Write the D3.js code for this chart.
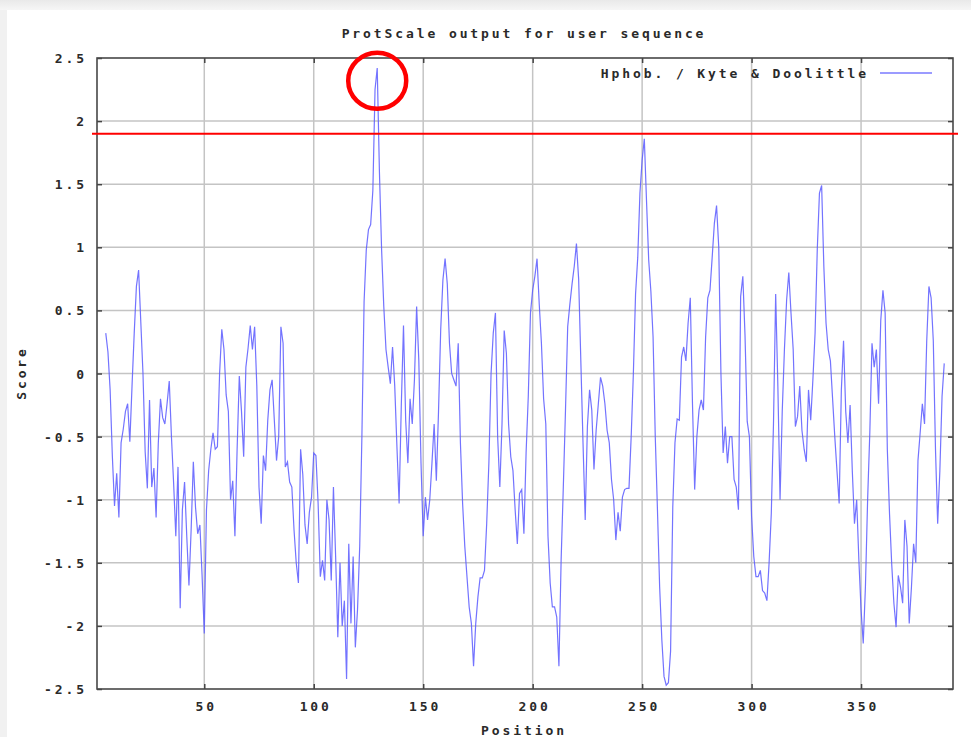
<!DOCTYPE html>
<html>
<head>
<meta charset="utf-8">
<script src="https://cdn.jsdelivr.net/npm/d3@7/dist/d3.min.js"></script>
<style>
  html, body { margin: 0; padding: 0; background: #ffffff; }
  svg { display: block; }
  text { font-family: "DejaVu Sans Mono", "Liberation Mono", monospace; fill: #2a2a2a; }
</style>
</head>
<body>
<svg id="chart" width="971" height="737"></svg>
<script>
// ---------- data ----------
const title = "ProtScale output for user sequence";
const seriesName = "Hphob. / Kyte & Doolittle";
const xLabel = "Position";
const yLabel = "Score";
const firstPosition = 5;
const scores = [
  0.32, 0.17, -0.13, -0.65, -1.05, -0.79, -1.14, -0.55, -0.44, -0.3,   // 5-14
  -0.24, -0.54, -0.1, 0.32, 0.69, 0.82, 0.41, 0.0, -0.62, -0.91,       // 15-24
  -0.21, -0.9, -0.75, -1.14, -0.55, -0.2, -0.35, -0.4, -0.24, -0.06,   // 25-34
  -0.5, -0.87, -1.29, -0.74, -1.86, -1.08, -0.86, -1.29, -1.68, -1.24, // 35-44
  -0.7, -1.06, -1.27, -1.2, -1.6, -2.06, -1.08, -0.77, -0.6, -0.47,    // 45-54
  -0.6, -0.58, 0.0, 0.35, 0.19, -0.17, -0.3, -1.0, -0.85, -1.29,       // 55-64
  -0.6, -0.02, -0.3, -0.66, 0.05, 0.2, 0.38, 0.19, 0.37, -0.1,         // 65-74
  -0.9, -1.19, -0.65, -0.77, -0.37, -0.13, -0.05, -0.37, -0.69, -0.5,  // 75-84
  0.37, 0.24, -0.74, -0.7, -0.86, -0.9, -1.24, -1.5, -1.66, -0.6,      // 85-94
  -0.8, -1.2, -1.35, -1.1, -0.98, -0.63, -0.65, -1.03, -1.61, -1.48,   // 95-104
  -1.64, -1.0, -1.16, -1.64, -0.9, -1.45, -2.09, -1.5, -2.0, -1.8,     // 105-114
  -2.42, -1.35, -1.98, -1.45, -2.17, -1.87, -1.37, -0.5, 0.57, 0.98,   // 115-124
  1.14, 1.18, 1.45, 2.25, 2.42, 1.6, 0.98, 0.53, 0.19, 0.05,           // 125-134
  -0.08, 0.21, -0.1, -0.58, -1.03, -0.25, 0.38, -0.37, -0.71, -0.2,    // 135-144
  -0.4, -0.05, 0.53, 0.1, -0.71, -1.29, -0.98, -1.16, -1.0, -0.71,     // 145-154
  -0.4, -0.85, -0.3, 0.35, 0.74, 0.91, 0.71, 0.24, 0.0, -0.05,         // 155-164
  -0.1, 0.24, -0.55, -1.03, -1.37, -1.61, -1.85, -1.98, -2.32, -1.98,  // 165-174
  -1.77, -1.62, -1.62, -1.56, -1.19, -0.71, 0.0, 0.32, 0.48, -0.5,     // 175-184
  -0.9, -0.4, 0.34, 0.16, -0.4, -0.66, -0.77, -1.08, -1.35, -0.95,     // 185-194
  -0.92, -1.27, -0.63, -0.18, 0.48, 0.66, 0.77, 0.91, 0.55, 0.24,      // 195-204
  -0.2, -0.4, -1.29, -1.66, -1.85, -1.85, -1.93, -2.32, -1.48, -0.9,   // 205-214
  -0.29, 0.37, 0.55, 0.71, 0.85, 1.03, 0.75, 0.1, -0.55, -1.16,        // 215-224
  -0.42, -0.13, -0.29, -0.76, -0.45, -0.24, -0.03, -0.1, -0.24, -0.45, // 225-234
  -0.55, -0.84, -1.0, -1.32, -1.1, -1.25, -0.98, -0.92, -0.91, -0.91,  // 235-244
  -0.5, 0.0, 0.63, 0.92, 1.43, 1.69, 1.86, 1.37, 0.9, 0.65,            // 245-254
  0.29, -0.5, -1.08, -1.69, -2.11, -2.4, -2.47, -2.45, -2.2, -1.06,    // 255-264
  -0.55, -0.36, -0.37, 0.13, 0.21, 0.1, 0.4, 0.6, -0.24, -0.92,        // 265-274
  -0.5, -0.29, -0.21, -0.29, 0.29, 0.6, 0.66, 0.92, 1.19, 1.33,        // 275-284
  1.0, 0.0, -0.63, -0.42, -0.71, -0.5, -0.5, -0.84, -0.9, -1.08,       // 285-294
  0.61, 0.77, 0.3, -0.38, -0.5, -1.13, -1.45, -1.61, -1.61, -1.56,     // 295-304
  -1.72, -1.74, -1.8, -1.5, -1.11, -0.4, 0.63, -0.1, -1.0, -0.3,       // 305-314
  0.19, 0.58, 0.8, 0.48, 0.19, -0.42, -0.34, -0.1, -0.45, -0.6,        // 315-324
  -0.7, -0.13, -0.37, -0.05, 0.32, 0.98, 1.43, 1.49, 0.85, 0.4,        // 325-334
  0.19, 0.1, -0.2, -0.5, -0.77, -1.03, -0.13, 0.26, -0.3, -0.55,       // 335-344
  -0.25, -0.77, -1.19, -1.0, -1.48, -1.87, -2.14, -1.69, -1.0, -0.47,  // 345-354
  0.24, 0.05, 0.19, -0.24, 0.42, 0.66, 0.48, -0.6, -1.11, -1.51,       // 355-364
  -1.82, -2.01, -1.6, -1.69, -1.82, -1.16, -1.37, -1.98, -1.7, -1.35,  // 365-374
  -1.5, -0.69, -0.47, -0.24, -0.4, 0.26, 0.69, 0.6, 0.26, -0.6,        // 375-384
  -1.19, -0.77, -0.18, 0.08                                             // 385-388
];
const xDomain = [1, 392];
const yDomain = [-2.5, 2.5];
const xTicks = [50, 100, 150, 200, 250, 300, 350];
const yTicks = [-2.5, -2, -1.5, -1, -0.5, 0, 0.5, 1, 1.5, 2, 2.5];
const yTickLabels = ["-2.5", "-2", "-1.5", "-1", "-0.5", "0", "0.5", "1", "1.5", "2", "2.5"];
const thresholdValue = 1.9;
const highlightPosition = 129;
const highlightScore = 2.32;

// ---------- drawing ----------
const svg = d3.select("#chart");
const W = 971, H = 737;
const L = 97, R = 953, T = 58, B = 689;

// screenshot frame (light grey bands top and left)
const grad = svg.append("defs").append("linearGradient")
  .attr("id", "topband").attr("x1", 0).attr("y1", 0).attr("x2", 0).attr("y2", 1);
grad.append("stop").attr("offset", "0%").attr("stop-color", "#e9e9e9");
grad.append("stop").attr("offset", "100%").attr("stop-color", "#f6f6f6");
svg.append("rect").attr("x", 0).attr("y", 0).attr("width", W).attr("height", H).attr("fill", "#ffffff");
svg.append("rect").attr("x", 0).attr("y", 0).attr("width", W).attr("height", 10).attr("fill", "url(#topband)");
svg.append("rect").attr("x", 0).attr("y", 10).attr("width", 7).attr("height", H - 10).attr("fill", "#f1f1f1");

const x = d3.scaleLinear().domain(xDomain).range([L, R]);
const y = d3.scaleLinear().domain(yDomain).range([B, T]);

// grid
const grid = svg.append("g");
grid.selectAll("line.vg").data(xTicks).join("line")
  .attr("x1", d => x(d)).attr("x2", d => x(d))
  .attr("y1", T).attr("y2", B)
  .attr("stroke", "#c4c4c4").attr("stroke-width", 1.5);
grid.selectAll("line.hg").data(yTicks.filter(d => d > yDomain[0] && d < yDomain[1])).join("line")
  .attr("x1", L).attr("x2", R)
  .attr("y1", d => y(d)).attr("y2", d => y(d))
  .attr("stroke", "#c4c4c4").attr("stroke-width", 1.5);

// mirrored inward ticks via d3 axes
const tickStyle = g => {
  g.select(".domain").remove();
  g.selectAll(".tick line").attr("stroke", "#444").attr("stroke-width", 1.5);
  g.selectAll(".tick text").remove();
};
svg.append("g").attr("transform", `translate(${L},0)`)
  .call(d3.axisRight(y).tickValues(yTicks).tickSize(5)).call(tickStyle);
svg.append("g").attr("transform", `translate(${R},0)`)
  .call(d3.axisLeft(y).tickValues(yTicks).tickSize(5)).call(tickStyle);
svg.append("g").attr("transform", `translate(0,${B})`)
  .call(d3.axisTop(x).tickValues(xTicks).tickSize(5)).call(tickStyle);
svg.append("g").attr("transform", `translate(0,${T})`)
  .call(d3.axisBottom(x).tickValues(xTicks).tickSize(5)).call(tickStyle);

// tick labels
const labelStyle = sel => sel.attr("font-size", 13).attr("letter-spacing", 2.9).attr("font-weight", "bold").attr("fill", "#3a3a3a");
svg.append("g").selectAll("text").data(yTicks).join("text")
  .attr("x", L - 10).attr("y", d => y(d) + 5)
  .attr("text-anchor", "end")
  .text((d, i) => yTickLabels[i])
  .call(labelStyle);
svg.append("g").selectAll("text").data(xTicks).join("text")
  .attr("x", d => x(d) + 2).attr("y", B + 22)
  .attr("text-anchor", "middle")
  .text(d => d)
  .call(labelStyle);

// data line
const pts = scores.map((s, i) => [firstPosition + i, s]);
svg.append("path")
  .datum(pts)
  .attr("fill", "none")
  .attr("stroke", "#5a5aff")
  .attr("stroke-opacity", 0.85)
  .attr("stroke-width", 1.2)
  .attr("d", d3.line().x(d => x(d[0])).y(d => y(d[1])));

// plot border
svg.append("rect").attr("x", L).attr("y", T).attr("width", R - L).attr("height", B - T)
  .attr("fill", "none").attr("stroke", "#484848").attr("stroke-width", 1.6);

// title & axis labels
svg.append("text").attr("x", 524).attr("y", 38).attr("text-anchor", "middle")
  .text(title).call(labelStyle);
svg.append("text").attr("x", 524).attr("y", 735).attr("text-anchor", "middle")
  .text(xLabel).call(labelStyle);
svg.append("text").attr("transform", "translate(26,373) rotate(-90)").attr("text-anchor", "middle")
  .text(yLabel).call(labelStyle);

// legend
svg.append("text").attr("x", 869).attr("y", 78).attr("text-anchor", "end")
  .text(seriesName).call(labelStyle);
svg.append("line").attr("x1", 880).attr("x2", 932).attr("y1", 73).attr("y2", 73)
  .attr("stroke", "#7a7aff").attr("stroke-width", 1.5);

// threshold line and highlight circle (annotations)
svg.append("line").attr("x1", L - 5).attr("x2", R + 5)
  .attr("y1", y(thresholdValue)).attr("y2", y(thresholdValue))
  .attr("stroke", "#ff0000").attr("stroke-width", 2);
svg.append("ellipse").attr("cx", x(highlightPosition)).attr("cy", y(highlightScore))
  .attr("rx", 29).attr("ry", 28)
  .attr("fill", "none").attr("stroke", "#ff0000").attr("stroke-width", 4.5);
</script>
</body>
</html>
